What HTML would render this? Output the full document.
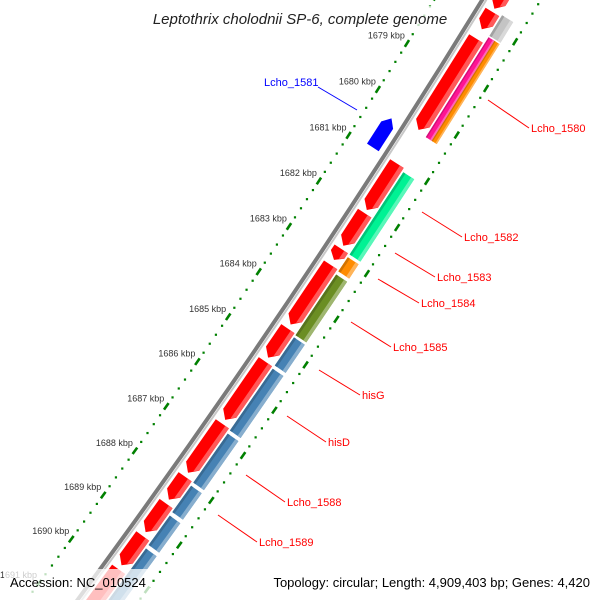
<!DOCTYPE html>
<html><head><meta charset="utf-8"><style>
html,body{margin:0;padding:0;background:#fff;width:600px;height:600px;overflow:hidden;}
svg{display:block;font-family:"Liberation Sans",sans-serif;overflow:hidden;}
</style></head><body>
<svg id="map" width="600" height="600" viewBox="0 0 600 600" xmlns="http://www.w3.org/2000/svg">
<defs><clipPath id="clip"><rect x="0" y="0" width="600" height="600"/></clipPath></defs>
<g clip-path="url(#clip)">
<g id="rings"></g>
<g id="backbone"></g>
<g id="genes"></g>
<g id="labels"></g>
</g>
<rect x="140" y="6" width="320" height="26" fill="#fff" opacity="0.75"/>
<text x="300" y="24" text-anchor="middle" font-size="15" font-style="italic" fill="#222">Leptothrix cholodnii SP-6, complete genome</text>
<rect x="4" y="569" width="146" height="31" fill="#fff" opacity="0.75"/>
<text x="10" y="587" font-size="13" fill="#000">Accession: NC_010524</text>
<rect x="256" y="569" width="340" height="31" fill="#fff" opacity="0.75"/>
<text x="590" y="587" text-anchor="end" font-size="13" fill="#000">Topology: circular; Length: 4,909,403 bp; Genes: 4,420</text>
</svg>
<script>
// ---- data ----
const tickKbp = [1679,1680,1681,1682,1683,1684,1685,1686,1687,1688,1689,1690,1691];
const redStarts = [1677.3,1677.67,1678.24,1680.94,1682.02,1682.8,1683.15,1684.55,1685.28,1686.66,1687.84,1688.44,1689.17,1689.92];
const redEnds   = [1677.63,1678.07,1680.24,1681.98,1682.76,1683.07,1684.49,1685.22,1686.6,1687.78,1688.38,1689.11,1689.86,1691.5];
const band2Names  = ['gray-feature','lcho-1580-pink','lcho-1580-orange','lcho-1582','lcho-1583','lcho-1584','lcho-1585','hisG','hisD','lcho-1588','lcho-1589','steel-6'];
const band2Starts = [1677.63,1678.1,1678.1,1681.01,1682.86,1683.24,1684.62,1685.31,1686.75,1687.91,1688.58,1689.32];
const band2Ends   = [1678.1,1680.28,1680.28,1682.83,1683.2,1684.6,1685.27,1686.71,1687.87,1688.53,1689.27,1690.7];
const band2Colors = ['#c4c4c4','#ff1493','#ff8c00','#00f294','#ff8c00','#6b8e23','#4682b4','#4682b4','#4682b4','#4682b4','#4682b4','#4682b4'];
const band2Sub    = ['full','inner','outer','full','full','full','full','full','full','full','full','full'];
const revStarts = [1680.3,1691.3];
const revEnds   = [1680.96,1692.0];
const labelTexts = ['Lcho_1580','Lcho_1582','Lcho_1583','Lcho_1584','Lcho_1585','hisG','hisD','Lcho_1588','Lcho_1589','Lcho_1581'];
const labelColors = ['red','red','red','red','red','red','red','red','red','blue'];

// ---- geometry ----
const CX=-6745, CY=-4438, R=8482, T0=0.5662, DT=0.00645;
const NS='http://www.w3.org/2000/svg';
function th(k){return T0+(k-1680)*DT;}
function pt(r,t){return [CX+r*Math.cos(t), CY+r*Math.sin(t)];}
function mk(tag,parent,attrs){const e=document.createElementNS(NS,tag);for(const k in attrs)e.setAttribute(k,attrs[k]);parent.appendChild(e);return e;}
function poly(list){return list.map(p=>p[0].toFixed(1)+','+p[1].toFixed(1)).join(' ');}
function shade(c,f){const n=parseInt(c.slice(1),16);let r=n>>16,g=(n>>8)&255,b=n&255;
  if(f>0){r+= (255-r)*f;g+=(255-g)*f;b+=(255-b)*f;}else{r*=1+f;g*=1+f;b*=1+f;}
  return 'rgb('+Math.round(r)+','+Math.round(g)+','+Math.round(b)+')';}

// rings
const rings=document.getElementById('rings');
function ring(r,shift,name){
  for(let k=1676;k<=1692.01;k+=0.2){
    const kk=Math.round(k*5)/5;
    const t=th(kk+shift);
    const p=pt(r,t);
    if(p[1]<-10||p[1]>600)continue;
    const major=Math.abs(kk-Math.round(kk))<0.01;
    if(major){
      const a=pt(r,t-4/R),b=pt(r,t+4/R);
      const d=mk('line',rings,{x1:a[0],y1:a[1],x2:b[0],y2:b[1],stroke:'#008000','stroke-width':2.6});
      
      
    }else{
      const d=mk('rect',rings,{x:p[0]-1.1,y:p[1]-1.1,width:2.2,height:2.2,fill:'#008000'});
      
      
    }
  }
}
ring(R-42,0,'inner-ring');
ring(R+49,-1.07,'outer-ring');
tickKbp.forEach(k=>{
  const p=pt(R-42,th(k));
  const tx=mk('text',rings,{x:p[0]-2,y:p[1]-5,'text-anchor':'end','font-size':9,fill:'#333'});
  tx.textContent=k+' kbp';
  
  
});

// backbone
const bb=document.getElementById('backbone');
function arcPath(r,t1,t2){const a=pt(r,t1),b=pt(r,t2);return 'M'+a[0]+','+a[1]+' A'+r+','+r+' 0 0 1 '+b[0]+','+b[1];}
let e=mk('path',bb,{d:arcPath(R-1,th(1676),th(1692)),stroke:'#7a7a7a','stroke-width':4,fill:'none'});


e=mk('path',bb,{d:arcPath(R+2.5,th(1676),th(1692)),stroke:'#c8c8c8','stroke-width':2,fill:'none'});



// genes
const genes=document.getElementById('genes');
function block(s,en,r1,r2,color,dir,name){
  const t1=th(s)+0.8/R,t2=th(en)-0.8/R,h=Math.min(8/R,(t2-t1)*0.5),rm=(r1+r2)/2;
  let P;
  if(dir===1)P=[pt(r1,t1),pt(r2,t1),pt(r2,t2-h),pt(rm,t2),pt(r1,t2-h)];
  else if(dir===-1)P=[pt(rm,t1),pt(r2,t1+h),pt(r2,t2),pt(r1,t2),pt(r1,t1+h)];
  else P=[pt(r1,t1),pt(r2,t1),pt(r2,t2),pt(r1,t2)];
  const g=mk('g',genes,{});
  
  
  mk('polygon',g,{points:poly(P),fill:color});
  const w=r2-r1, so=r2-w*0.28;
  let Q;
  if(dir===1)Q=[pt(so,t1),pt(r2,t1),pt(r2,t2-h),pt(so,t2-h*(r2-so)/(r2-rm))];
  else Q=[pt(so,t1),pt(r2,t1),pt(r2,t2),pt(so,t2)];
  if(dir!==-1)mk('polygon',g,{points:poly(Q),fill:shade(color,0.35)});
  const ti=r1+w*0.2;
  if(dir===0)mk('polygon',g,{points:poly([pt(r1,t1),pt(ti,t1),pt(ti,t2),pt(r1,t2)]),fill:shade(color,-0.18)});
}
redStarts.forEach((s,i)=>block(s,redEnds[i],R+6,R+22,'#ff0000',1,'forward-gene-'+i));
band2Starts.forEach((s,i)=>{
  let r1=R+24,r2=R+37;
  if(band2Sub[i]==='inner')r2=R+31;
  if(band2Sub[i]==='outer')r1=R+31;
  block(s,band2Ends[i],r1,r2,band2Colors[i],0,band2Names[i]);
});
revStarts.forEach((s,i)=>block(s,revEnds[i],R-22,R-8,'#0000ff',-1,'reverse-gene-'+i));

// labels (leader lines)
const labelPos=[[488,100,531,132],[422,212,464,241],[395,253,437,281],[378,279,421,307],[351,322,393,351],[319,370,362,399],[287,416,328,446],[246,475,287,506],[218,515,259,546],[357,110,264,86]];
const lab=document.getElementById('labels');
labelTexts.forEach((t,i)=>{
  const q=labelPos[i];
  const isLeft=i===9;
  const ln=mk('line',lab,{x1:q[0],y1:q[1],x2:isLeft?318:q[2]-2,y2:isLeft?87:q[3]-4,stroke:labelColors[i],'stroke-width':1});
  
  
  const tx=mk('text',lab,{x:q[2],y:q[3],'font-size':11,fill:labelColors[i]});
  tx.textContent=t;
  
  
});
</script>
</body></html>
